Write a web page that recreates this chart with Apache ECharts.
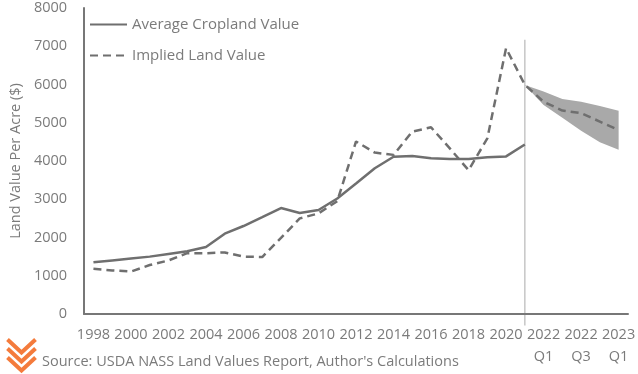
<!DOCTYPE html>
<html>
<head>
<meta charset="utf-8">
<script src="https://cdn.jsdelivr.net/npm/echarts@6/dist/echarts.min.js"></script>
<style>
html,body{margin:0;padding:0;background:#fff;}
#chart{width:638px;height:374px;}
</style>
</head>
<body>
<div id="chart"></div>
<script>
var categories = ['1998','1999','2000','2001','2002','2003','2004','2005','2006','2007','2008','2009','2010','2011','2012','2013','2014','2015','2016','2017','2018','2019','2020','2021','2022\nQ1','2022\nQ2','2022\nQ3','2022\nQ4','2023\nQ1'];
var averageCropland = [1350,1400,1450,1500,1570,1640,1750,2100,2300,2530,2770,2640,2720,3020,3410,3810,4110,4130,4070,4050,4050,4100,4120,4430,null,null,null,null,null];
var impliedLand = [1180,1140,1110,1280,1400,1590,1590,1610,1500,1490,1990,2500,2630,2950,4510,4220,4160,4770,4880,4330,3760,4590,6950,5990,5550,5320,5250,5030,4810];
var bandLower = [null,null,null,null,null,null,null,null,null,null,null,null,null,null,null,null,null,null,null,null,null,null,null,5990,5465,5130,4790,4490,4295];
var bandUpper = [null,null,null,null,null,null,null,null,null,null,null,null,null,null,null,null,null,null,null,null,null,null,null,5990,5814,5618,5552,5439,5316];
var yTicks = [0,1000,2000,3000,4000,5000,6000,7000,8000];
var forecastStart = '2021';
var forecastLineRange = [7170, -300];

var bandDiff = bandUpper.map(function(v, i){ return (v == null || bandLower[i] == null) ? null : v - bandLower[i]; });

var txt = '#7b7b7b';
var lineCol = '#6f6f6f';
var chart = echarts.init(document.getElementById('chart'), null, {renderer:'canvas'});
chart.setOption({
  animation:false,
  backgroundColor:'#ffffff',
  textStyle:{fontFamily:'Open Sans'},
  grid:{left:72, right:10, top:8, bottom:60, containLabel:false},
  legend:{
    data:['Average Cropland Value','Implied Land Value'],
    orient:'vertical', left:84, top:12, itemWidth:37, itemHeight:14, itemGap:16,
    itemStyle:{opacity:0},
    textStyle:{color:txt, fontSize:15, fontFamily:'Open Sans'}
  },
  xAxis:{
    type:'category', data:categories, boundaryGap:true,
    axisLine:{lineStyle:{color:'#777777', width:2}},
    axisTick:{show:false},
    axisLabel:{interval:1, color:txt, fontSize:14.5, margin:10, lineHeight:22, fontFamily:'Open Sans'}
  },
  yAxis:{
    type:'value', min:yTicks[0], max:yTicks[yTicks.length-1], interval:1000,
    name:'Land Value Per Acre ($)', nameLocation:'middle', nameGap:49, nameRotate:90,
    nameTextStyle:{color:txt, fontSize:14.5, fontFamily:'Open Sans'},
    axisLine:{show:true, lineStyle:{color:'#777777', width:2}},
    axisTick:{show:false},
    splitLine:{show:false},
    axisLabel:{color:txt, fontSize:14.5, margin:17, fontFamily:'Open Sans', formatter:function(v){return String(v);}}
  },
  series:[
    {name:'bandBase', type:'line', stack:'band', data:bandLower, symbol:'none', silent:true,
     lineStyle:{opacity:0}, z:1},
    {name:'bandFill', type:'line', stack:'band', data:bandDiff, symbol:'none', silent:true,
     lineStyle:{opacity:0}, areaStyle:{color:'#a9a9a9', opacity:1}, z:1},
    {name:'Average Cropland Value', type:'line', data:averageCropland, symbol:'none',
     lineStyle:{color:lineCol, width:2.5}, itemStyle:{color:lineCol}, z:3},
    {name:'Implied Land Value', type:'line', data:impliedLand, symbol:'none',
     lineStyle:{color:lineCol, width:2.5, type:[8,5]}, itemStyle:{color:lineCol}, z:4}
  ],
  graphic:[
    {type:'text', left:42, top:354, style:{text:"Source: USDA NASS Land Values Report, Author's Calculations", fill:txt, font:'14.5px "Open Sans"'}},
    {type:'group', left:5, top:337, children:[
      {type:'polyline', shape:{points:[[0,0],[14,13],[28,0]]}, style:{stroke:'#f47b3c', lineWidth:4, fill:null}},
      {type:'polyline', shape:{points:[[0,9],[14,22],[28,9]]}, style:{stroke:'#f47b3c', lineWidth:4, fill:null}},
      {type:'polyline', shape:{points:[[0,18],[14,31],[28,18]]}, style:{stroke:'#f47b3c', lineWidth:4, fill:null}}
    ]}
  ]
});
var pTop = chart.convertToPixel({xAxisIndex:0, yAxisIndex:0}, [forecastStart, forecastLineRange[0]]);
var pBot = chart.convertToPixel({xAxisIndex:0, yAxisIndex:0}, [forecastStart, forecastLineRange[1]]);
chart.setOption({graphic:[
  {type:'text', left:42, top:354, style:{text:"Source: USDA NASS Land Values Report, Author's Calculations", fill:txt, font:'14.5px "Open Sans"'}},
  {type:'group', left:5, top:337, children:[
    {type:'polyline', shape:{points:[[0,0],[14,13],[28,0]]}, style:{stroke:'#f47b3c', lineWidth:4, fill:null}},
    {type:'polyline', shape:{points:[[0,9],[14,22],[28,9]]}, style:{stroke:'#f47b3c', lineWidth:4, fill:null}},
    {type:'polyline', shape:{points:[[0,18],[14,31],[28,18]]}, style:{stroke:'#f47b3c', lineWidth:4, fill:null}}
  ]},
  {type:'line', z:0, silent:true, shape:{x1:pTop[0], y1:pTop[1], x2:pBot[0], y2:pBot[1]}, style:{stroke:'#c6c6c6', lineWidth:1.5}}
]});
</script>
</body>
</html>
